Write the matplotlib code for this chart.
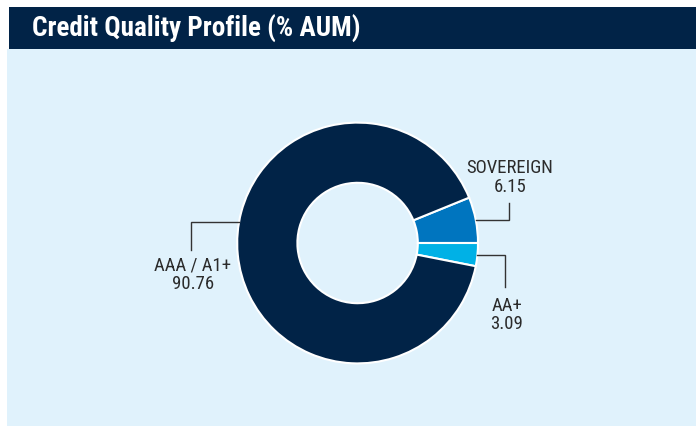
import numpy as np
import matplotlib
matplotlib.use("Agg")
import matplotlib.pyplot as plt
from matplotlib.patches import Rectangle
from matplotlib import font_manager as fm

# ---- data ----
categories = ["SOVEREIGN", "AA+", "AAA / A1+"]
values = [6.15, 3.09, 90.76]
value_labels = ["6.15", "3.09", "90.76"]
colors = ["#0075BF", "#00B1E6", "#012347"]

title = "Credit Quality Profile (% AUM)"

avail = {f.name for f in fm.fontManager.ttflist}
narrow = [n for n in ["Liberation Sans Narrow", "Roboto Condensed", "Open Sans Condensed"] if n in avail]
fam = narrow + ["DejaVu Sans"]
stretch = "normal" if narrow else "condensed"

W, H, DPI = 696, 426, 100
fig = plt.figure(figsize=(W / DPI, H / DPI), dpi=DPI, facecolor="white")

# panel background and header band (figure pixel coords)
fig.patches.append(Rectangle((7 / W, 0), (W - 7) / W, (H - 49) / H,
                             transform=fig.transFigure, facecolor="#E0F2FC", edgecolor="none", zorder=-5))
fig.patches.append(Rectangle((9 / W, (H - 49) / H), (W - 9) / W, 42 / H,
                             transform=fig.transFigure, facecolor="#012347", edgecolor="none", zorder=-5))
fig.text(32 / W, 1 - 29 / H, title, color="white", fontsize=19.5, fontweight="bold",
         family=fam, fontstretch=stretch, va="center", ha="left")

# pie axes spanning entire figure, 1 data unit = R pixels
cx, cy, R = 357.6, 243.0, 120.4
ax = fig.add_axes([0, 0, 1, 1], zorder=2)
ax.patch.set_alpha(0)

start = 360 * values[0] / 100.0
wedges, _ = ax.pie(values, colors=colors, startangle=start, counterclock=False,
                   radius=1.0, wedgeprops=dict(width=0.5, edgecolor="white", linewidth=1.5),
                   center=(0, 0), frame=True)
ax.set_xlim(-cx / R, (W - cx) / R)
ax.set_ylim(-(H - cy) / R, cy / R)
ax.set_aspect("auto")
ax.axis("off")

# leader lines: (anchor angle, elbow x, end y, text x, text y, va)
lead = {
    "SOVEREIGN": (None, 1.258, 0.332, 1.266, 0.39, "bottom"),
    "AA+": (None, 1.224, -0.365, 1.24, -0.445, "top"),
    "AAA / A1+": (170.0, -1.384, -0.058, -1.37, -0.11, "top"),
}
for w, cat, vl in zip(wedges, categories, value_labels):
    ang, ex, ey, tx, ty, va = lead[cat]
    if ang is None:
        ang = (w.theta1 + w.theta2) / 2.0
    a = np.deg2rad(ang)
    px, py = np.cos(a), np.sin(a)
    ax.plot([px, ex, ex], [py, py, ey], color="#333333", lw=1.0, solid_joinstyle="miter")
    ax.text(tx, ty, f"{cat}\n{vl}", ha="center", va=va, fontsize=13.5, family=fam,
            fontstretch=stretch, color="#2b2b2b", linespacing=1.05, multialignment="center")

fig.savefig("out.png", dpi=DPI, facecolor="white")
